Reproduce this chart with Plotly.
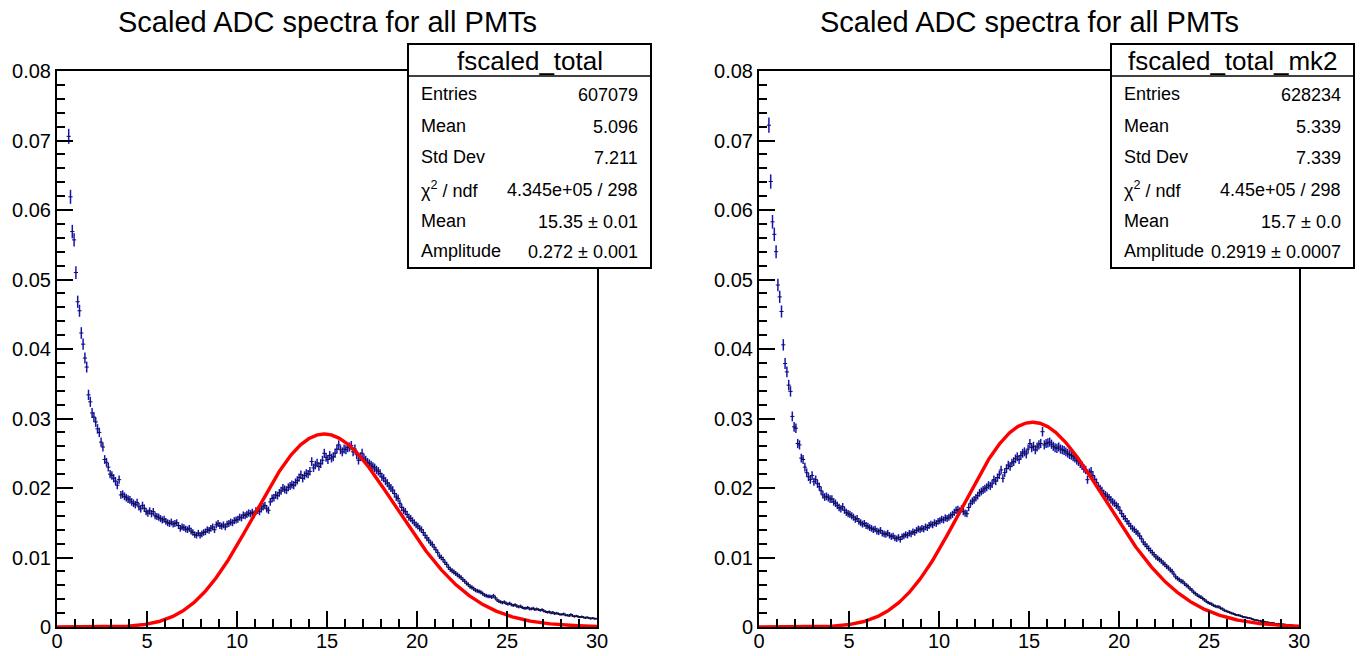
import math
import numpy as np
import plotly.graph_objects as go

# ---------------- data ----------------
N_BINS = 300
X_MIN, X_MAX = 0.0, 30.0
BIN_CENTERS = [round(0.05 + 0.1 * i, 2) for i in range(N_BINS)]

LEFT_VALUES = [
    None, None, None, None, None, None, 0.0706, 0.0619, 0.0569, 0.0557,
    0.0510, 0.0468, 0.0455, 0.0423, 0.0407, 0.0387, 0.0374, 0.0334, 0.0324, 0.0308,
    0.0302, 0.0295, 0.0285, 0.0280, 0.0266, 0.0259, 0.0241, 0.0237, 0.0230, 0.0220,
    0.0218, 0.0214, 0.0210, 0.0204, 0.0212, 0.0190, 0.0191, 0.0188, 0.0186, 0.0184,
    0.0183, 0.0180, 0.0178, 0.0176, 0.0179, 0.0173, 0.0170, 0.0175, 0.0171, 0.0166,
    0.0164, 0.0167, 0.0163, 0.0166, 0.0160, 0.0159, 0.0158, 0.0156, 0.0154, 0.0155,
    0.0152, 0.0150, 0.0149, 0.0151, 0.0148, 0.0149, 0.0150, 0.0146, 0.0142, 0.0144,
    0.0143, 0.0141, 0.0140, 0.0142, 0.0138, 0.0136, 0.0133, 0.0132, 0.0135, 0.0132,
    0.0134, 0.0136, 0.0137, 0.0140, 0.0139, 0.0142, 0.0144, 0.0140, 0.0147, 0.0149,
    0.0146, 0.0145, 0.0147, 0.0144, 0.0148, 0.0149, 0.0151, 0.0150, 0.0153, 0.0154,
    0.0155, 0.0158, 0.0157, 0.0161, 0.0160, 0.0162, 0.0164, 0.0163, 0.0165, 0.0162,
    0.0167, 0.0168, 0.0166, 0.0170, 0.0173, 0.0175, 0.0170, 0.0168, 0.0180, 0.0185,
    0.0186, 0.0190, 0.0189, 0.0193, 0.0196, 0.0200, 0.0198, 0.0197, 0.0201, 0.0203,
    0.0205, 0.0204, 0.0208, 0.0211, 0.0215, 0.0219, 0.0214, 0.0218, 0.0221, 0.0220,
    0.0224, 0.0238, 0.0229, 0.0233, 0.0236, 0.0231, 0.0235, 0.0240, 0.0250, 0.0244,
    0.0241, 0.0247, 0.0243, 0.0245, 0.0250, 0.0256, 0.0262, 0.0255, 0.0252, 0.0256,
    0.0255, 0.0258, 0.0259, 0.0261, 0.0252, 0.0256, 0.0248, 0.0240, 0.0245, 0.0250,
    0.0243, 0.0240, 0.0237, 0.0235, 0.0233, 0.0231, 0.0229, 0.0226, 0.0224, 0.0221,
    0.0216, 0.0214, 0.0210, 0.0207, 0.0203, 0.0200, 0.0197, 0.0192, 0.0187, 0.0185,
    0.0178, 0.0172, 0.0168, 0.0166, 0.0162, 0.0158, 0.0156, 0.0153, 0.0150, 0.0147,
    0.0145, 0.0142, 0.0140, 0.0136, 0.0132, 0.0128, 0.0125, 0.0121, 0.0119, 0.0115,
    0.0111, 0.0107, 0.0102, 0.0100, 0.0097, 0.0093, 0.0090, 0.0086, 0.0083, 0.0081,
    0.0079, 0.0077, 0.0075, 0.0073, 0.0071, 0.0068, 0.0066, 0.0063, 0.0061, 0.0058,
    0.0057, 0.0055, 0.0053, 0.0052, 0.0051, 0.0050, 0.0048, 0.0046, 0.0045, 0.0044,
    0.0044, 0.0043, 0.0045, 0.0042, 0.0039, 0.0037, 0.0036, 0.0035, 0.0036, 0.0034,
    0.0033, 0.0034, 0.0032, 0.0031, 0.0032, 0.0030, 0.0029, 0.0030, 0.0028, 0.0027,
    0.0027, 0.0028, 0.0026, 0.0026, 0.0027, 0.0025, 0.0026, 0.0025, 0.0024, 0.0025,
    0.0023, 0.0022, 0.0021, 0.0022, 0.0020, 0.0021, 0.0019, 0.0020, 0.0019, 0.0018,
    0.0018, 0.0019, 0.0017, 0.0017, 0.0016, 0.0018, 0.0016, 0.0015, 0.0016, 0.0015,
    0.0014, 0.0015, 0.0014, 0.0013, 0.0014, 0.0013, 0.0012, 0.0013, 0.0012, 0.0012,
]

RIGHT_VALUES = [
    None, None, None, None, None, 0.0722, 0.0641, 0.0583, 0.0565, 0.0540,
    0.0492, 0.0475, 0.0454, 0.0406, 0.0379, 0.0367, 0.0348, 0.0339, 0.0303, 0.0288,
    0.0286, 0.0264, 0.0262, 0.0243, 0.0241, 0.0230, 0.0222, 0.0216, 0.0212, 0.0218,
    0.0209, 0.0212, 0.0206, 0.0202, 0.0196, 0.0190, 0.0187, 0.0188, 0.0186, 0.0184,
    0.0184, 0.0180, 0.0178, 0.0175, 0.0172, 0.0170, 0.0173, 0.0168, 0.0165, 0.0163,
    0.0162, 0.0160, 0.0158, 0.0155, 0.0156, 0.0152, 0.0150, 0.0148, 0.0149, 0.0146,
    0.0145, 0.0143, 0.0142, 0.0140, 0.0141, 0.0138, 0.0137, 0.0139, 0.0135, 0.0134,
    0.0133, 0.0135, 0.0132, 0.0130, 0.0131, 0.0128, 0.0127, 0.0129, 0.0126, 0.0130,
    0.0131, 0.0133, 0.0132, 0.0135, 0.0134, 0.0137, 0.0136, 0.0139, 0.0141, 0.0140,
    0.0142, 0.0141, 0.0144, 0.0143, 0.0146, 0.0148, 0.0147, 0.0150, 0.0149, 0.0152,
    0.0153, 0.0155, 0.0154, 0.0157, 0.0156, 0.0158, 0.0160, 0.0162, 0.0165, 0.0168,
    0.0169, 0.0167, 0.0170, 0.0166, 0.0164, 0.0163, 0.0172, 0.0178, 0.0181, 0.0183,
    0.0186, 0.0189, 0.0193, 0.0195, 0.0197, 0.0199, 0.0201, 0.0204, 0.0203, 0.0206,
    0.0212, 0.0210, 0.0215, 0.0219, 0.0226, 0.0214, 0.0222, 0.0228, 0.0233, 0.0231,
    0.0236, 0.0238, 0.0242, 0.0245, 0.0241, 0.0247, 0.0250, 0.0252, 0.0249, 0.0256,
    0.0264, 0.0258, 0.0260, 0.0255, 0.0259, 0.0262, 0.0264, 0.0281, 0.0262, 0.0264,
    0.0265, 0.0266, 0.0263, 0.0260, 0.0258, 0.0257, 0.0259, 0.0256, 0.0255, 0.0254,
    0.0252, 0.0250, 0.0248, 0.0247, 0.0245, 0.0243, 0.0240, 0.0238, 0.0235, 0.0232,
    0.0228, 0.0226, 0.0212, 0.0222, 0.0224, 0.0218, 0.0212, 0.0208, 0.0202, 0.0199,
    0.0196, 0.0192, 0.0190, 0.0188, 0.0186, 0.0183, 0.0180, 0.0178, 0.0175, 0.0173,
    0.0168, 0.0163, 0.0159, 0.0156, 0.0152, 0.0149, 0.0145, 0.0142, 0.0140, 0.0137,
    0.0135, 0.0131, 0.0127, 0.0122, 0.0119, 0.0116, 0.0113, 0.0110, 0.0107, 0.0104,
    0.0101, 0.0099, 0.0097, 0.0095, 0.0092, 0.0090, 0.0087, 0.0085, 0.0082, 0.0080,
    0.0076, 0.0072, 0.0070, 0.0068, 0.0066, 0.0065, 0.0062, 0.0060, 0.0058, 0.0055,
    0.0053, 0.0050, 0.0048, 0.0046, 0.0044, 0.0043, 0.0041, 0.0039, 0.0037, 0.0035,
    0.0034, 0.0033, 0.0031, 0.0030, 0.0029, 0.0029, 0.0027, 0.0026, 0.0024, 0.0023,
    0.0022, 0.0021, 0.0020, 0.0019, 0.0018, 0.0017, 0.0017, 0.0016, 0.0015, 0.0014,
    0.0014, 0.0013, 0.0013, 0.0012, 0.0011, 0.0010, 0.0010, 0.0009, 0.0009, 0.0008,
    0.0008, 0.0007, 0.0007, 0.0006, 0.0006, 0.0006, 0.0005, 0.0005, 0.0005, 0.0004,
    0.0004, 0.0004, 0.0003, 0.0003, 0.0003, 0.0003, 0.0002, 0.0002, 0.0002, 0.0002,
]

# per-entry weight used for the statistical (sqrt N) error bars
ERR_WEIGHT = 1.65e-5

# fit results (Amplitude * Poisson(x, Mean))
LEFT_FIT = {"mean": 15.35, "amp": 0.272}
RIGHT_FIT = {"mean": 15.7, "amp": 0.2919}

TITLE = "Scaled ADC spectra for all PMTs"
LEFT_STATS_NAME = "fscaled_total"
RIGHT_STATS_NAME = "fscaled_total_mk2"
STAT_LABELS = ["Entries", "Mean", "Std Dev", "\u03c7<sup>2</sup> / ndf", "Mean", "Amplitude"]
LEFT_STATS = ["607079", "5.096", "7.211", "4.345e+05 / 298", "15.35 \u00b1 0.01", "0.272 \u00b1 0.001"]
RIGHT_STATS = ["628234", "5.339", "7.339", "4.45e+05 / 298", "15.7 \u00b1 0.0", "0.2919 \u00b1 0.0007"]

Y_TICKS = [0, 0.01, 0.02, 0.03, 0.04, 0.05, 0.06, 0.07, 0.08]
Y_TICK_TEXT = ["0", "0.01", "0.02", "0.03", "0.04", "0.05", "0.06", "0.07", "0.08"]
X_TICKS = [0, 5, 10, 15, 20, 25, 30]
X_TICK_TEXT = ["0", "5", "10", "15", "20", "25", "30"]

# ---------------- layout geometry (pixels) ----------------
W, H = 1362, 656
FONT = "Liberation Sans, Arial, Helvetica, sans-serif"
BLUE = "#1414b4"
PANELS = [
    dict(x0=57, x1=597, vals=LEFT_VALUES, fit=LEFT_FIT, name=LEFT_STATS_NAME,
         stats=LEFT_STATS, box=(408, 651), xa="x", ya="y"),
    dict(x0=759, x1=1299, vals=RIGHT_VALUES, fit=RIGHT_FIT, name=RIGHT_STATS_NAME,
         stats=RIGHT_STATS, box=(1111, 1354), xa="x2", ya="y2"),
]
PLOT_TOP, PLOT_BOTTOM = 71, 627


def px(xp):
    return xp / W


def py(yp):
    return 1 - yp / H


def poisson_curve(xs, mean, amp):
    return [amp * math.exp(x * math.log(mean) - mean - math.lgamma(x + 1.0)) for x in xs]


fig = go.Figure()
shapes = []
annotations = []
curve_x = np.linspace(X_MIN, X_MAX, 901)

for i, p in enumerate(PANELS):
    xs = [x for x, v in zip(BIN_CENTERS, p["vals"]) if v is not None]
    ys = [v for v in p["vals"] if v is not None]
    errs = [math.sqrt(v * ERR_WEIGHT) for v in ys]
    fig.add_trace(go.Scatter(
        x=xs, y=ys, mode="markers", xaxis=p["xa"], yaxis=p["ya"],
        marker=dict(symbol="line-ew", size=3, line=dict(color="#101030", width=1), color="#101030"),
        error_y=dict(type="data", array=errs, color=BLUE, thickness=1.5, width=0),
        showlegend=False, hoverinfo="x+y",
    ))
    fig.add_trace(go.Scatter(
        x=curve_x, y=poisson_curve(curve_x, p["fit"]["mean"], p["fit"]["amp"]),
        mode="lines", line=dict(color="#ff0000", width=3.4), xaxis=p["xa"], yaxis=p["ya"],
        showlegend=False, hoverinfo="skip",
    ))

    xaxis = dict(
        domain=[px(p["x0"]), px(p["x1"])], range=[X_MIN, X_MAX], anchor=p["ya"],
        automargin=False,
        showline=True, linecolor="black", linewidth=2, mirror=True,
        ticks="inside", ticklen=16, tickwidth=1.5, tickcolor="black",
        tickvals=X_TICKS, ticktext=X_TICK_TEXT, ticklabelstandoff=-5,
        minor=dict(ticks="inside", dtick=1, ticklen=8, tickwidth=1.5, tickcolor="black"),
        showgrid=False, zeroline=False,
        tickfont=dict(family=FONT, size=20, color="black"),
    )
    yaxis = dict(
        domain=[py(PLOT_BOTTOM), py(PLOT_TOP)], range=[0, 0.08], anchor=p["xa"],
        automargin=False,
        showline=True, linecolor="black", linewidth=2, mirror=True,
        ticks="inside", ticklen=16, tickwidth=1.5, tickcolor="black",
        tickvals=Y_TICKS, ticktext=Y_TICK_TEXT,
        minor=dict(ticks="inside", dtick=0.002, ticklen=8, tickwidth=1.5, tickcolor="black"),
        showgrid=False, zeroline=False,
        tickfont=dict(family=FONT, size=20, color="black"),
    )
    suffix = "" if i == 0 else "2"
    fig.update_layout(**{"xaxis" + suffix: xaxis, "yaxis" + suffix: yaxis})

    # title
    annotations.append(dict(
        x=px((p["x0"] + p["x1"]) / 2), y=py(22), xref="paper", yref="paper",
        text=TITLE, showarrow=False, xanchor="center", yanchor="middle",
        font=dict(family=FONT, size=29, color="black"),
    ))

    # stats box
    bx0, bx1 = p["box"]
    by0, by1, bsep = 44, 268, 76
    shapes.append(dict(type="rect", xref="paper", yref="paper",
                       x0=px(bx0), x1=px(bx1), y0=py(by1), y1=py(by0),
                       line=dict(color="black", width=2), fillcolor="white", layer="above"))
    shapes.append(dict(type="line", xref="paper", yref="paper",
                       x0=px(bx0), x1=px(bx1), y0=py(bsep), y1=py(bsep),
                       line=dict(color="black", width=1.5), layer="above"))
    annotations.append(dict(
        x=px((bx0 + bx1) / 2), y=py(61), xref="paper", yref="paper",
        text=p["name"], showarrow=False, xanchor="center", yanchor="middle",
        font=dict(family=FONT, size=26, color="black"),
    ))
    row_y = [94, 126, 157, 189, 221, 251]
    for lab, val, yy in zip(STAT_LABELS, p["stats"], row_y):
        annotations.append(dict(
            x=px(bx0 + 11), y=py(yy), xref="paper", yref="paper", text=lab,
            showarrow=False, xanchor="left", yanchor="middle",
            font=dict(family=FONT, size=18, color="black"),
        ))
        annotations.append(dict(
            x=px(bx1 - 11), y=py(yy + 1), xref="paper", yref="paper", text=val,
            showarrow=False, xanchor="right", yanchor="middle",
            font=dict(family=FONT, size=18, color="black"),
        ))

fig.update_layout(
    width=W, height=H, margin=dict(l=0, r=0, t=0, b=0, autoexpand=False),
    paper_bgcolor="white", plot_bgcolor="white",
    shapes=shapes, annotations=annotations, showlegend=False,
)

fig.write_html("out.html")
